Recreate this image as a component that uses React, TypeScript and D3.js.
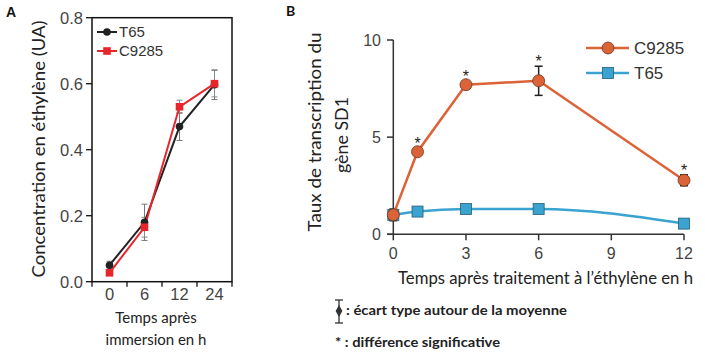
import React, { useEffect, useRef } from "react";
import * as d3 from "d3";

// Panel A: ethylene concentration
const catsA = ["0", "6", "12", "24"];
const t65A = [0.05, 0.18, 0.47, 0.597];
const t65AErr = [0.012, 0.055, 0.042, 0.045];
const c9285A = [0.027, 0.165, 0.53, 0.6];
const c9285AErr = [0.005, 0.03, 0.02, 0.04];
const ticksA = [0, 0.2, 0.4, 0.6, 0.8];

// Panel B: SD1 transcription
const hoursB = [0, 1, 3, 6, 12];
const c9285B = [1.0, 4.25, 7.7, 7.9, 2.78];
const c9285BErr = [0.3, 0.12, 0.1, 0.75, 0.28];
const t65B = [1.0, 1.17, 1.3, 1.3, 0.55];
const signifB = [false, true, true, true, true];
const ticksBx = [0, 3, 6, 9, 12];
const ticksBy = [0, 5, 10];

const ORANGE = "#dc6337";
const BLUE = "#3aa3cf";
const SANS = "'Liberation Sans', Arial, sans-serif";
const HUM = "Lato, 'Open Sans', sans-serif";

const App: React.FC = () => {
  const svgRef = useRef<SVGSVGElement>(null);

  useEffect(() => {
    if (!svgRef.current) return;
    const svg = d3.select(svgRef.current);
    svg.selectAll("*").remove();

    // ---------- Panel A ----------
    const xA = d3.scaleBand<string>().domain(catsA).range([92, 232]);
    const yA = d3.scaleLinear().domain([0, 0.8]).range([281.7, 17.7]);
    const cx = (c: string) => (xA(c) as number) + xA.bandwidth() / 2;

    const gA = svg.append("g");
    gA.append("rect")
      .attr("x", 92)
      .attr("y", yA(0.8))
      .attr("width", 140)
      .attr("height", yA(0) - yA(0.8))
      .attr("fill", "none")
      .attr("stroke", "#111")
      .attr("stroke-width", 1.5);

    // y ticks
    ticksA.forEach((t) => {
      gA.append("line")
        .attr("x1", 86).attr("x2", 92)
        .attr("y1", yA(t)).attr("y2", yA(t))
        .attr("stroke", "#111").attr("stroke-width", 1.3);
      gA.append("text")
        .attr("x", 83).attr("y", yA(t))
        .attr("dy", "0.36em")
        .attr("text-anchor", "end")
        .style("font-family", SANS)
        .style("font-size", "16.5px")
        .style("fill", "#444")
        .text(t.toFixed(1));
    });
    // x ticks at band boundaries
    [...catsA.map((c) => xA(c) as number), 232].forEach((x) => {
      gA.append("line")
        .attr("x1", x).attr("x2", x)
        .attr("y1", yA(0)).attr("y2", yA(0) + 5)
        .attr("stroke", "#111").attr("stroke-width", 1.3);
    });
    catsA.forEach((c) => {
      gA.append("text")
        .attr("x", cx(c)).attr("y", 300)
        .attr("text-anchor", "middle")
        .style("font-family", SANS)
        .style("font-size", "16.5px")
        .style("fill", "#444")
        .text(c);
    });

    const lineA = d3.line<number>().x((_, i) => cx(catsA[i])).y((d) => yA(d));

    const drawErrA = (vals: number[], errs: number[], color: string) => {
      vals.forEach((v, i) => {
        const x = cx(catsA[i]);
        const g = gA.append("g").attr("stroke", color).attr("stroke-width", 1);
        g.append("line").attr("x1", x).attr("x2", x).attr("y1", yA(v + errs[i])).attr("y2", yA(v - errs[i]));
        g.append("line").attr("x1", x - 3).attr("x2", x + 3).attr("y1", yA(v + errs[i])).attr("y2", yA(v + errs[i]));
        g.append("line").attr("x1", x - 3).attr("x2", x + 3).attr("y1", yA(v - errs[i])).attr("y2", yA(v - errs[i]));
      });
    };
    drawErrA(t65A, t65AErr, "#777");
    drawErrA(c9285A, c9285AErr, "#888");

    gA.append("path").attr("d", lineA(t65A)).attr("fill", "none").attr("stroke", "#222").attr("stroke-width", 2);
    gA.append("path").attr("d", lineA(c9285A)).attr("fill", "none").attr("stroke", "#e8252b").attr("stroke-width", 2);
    t65A.forEach((v, i) => {
      gA.append("circle").attr("cx", cx(catsA[i])).attr("cy", yA(v)).attr("r", 3.8).attr("fill", "#222");
    });
    c9285A.forEach((v, i) => {
      gA.append("rect")
        .attr("x", cx(catsA[i]) - 3.8).attr("y", yA(v) - 3.8)
        .attr("width", 7.6).attr("height", 7.6).attr("fill", "#e8252b");
    });

    // legend A
    const legA = [
      { name: "T65", color: "#222", shape: "circle", y: 32 },
      { name: "C9285", color: "#e8252b", shape: "square", y: 51 },
    ];
    legA.forEach((l) => {
      gA.append("line").attr("x1", 97).attr("x2", 117).attr("y1", l.y).attr("y2", l.y)
        .attr("stroke", l.color).attr("stroke-width", 2);
      if (l.shape === "circle") {
        gA.append("circle").attr("cx", 107).attr("cy", l.y).attr("r", 3.8).attr("fill", l.color);
      } else {
        gA.append("rect").attr("x", 103.2).attr("y", l.y - 3.8).attr("width", 7.6).attr("height", 7.6).attr("fill", l.color);
      }
      gA.append("text").attr("x", 119).attr("y", l.y).attr("dy", "0.36em")
        .style("font-family", SANS).style("font-size", "15px").style("fill", "#333").text(l.name);
    });

    gA.append("text")
      .attr("transform", `translate(45, 149) rotate(-90)`)
      .attr("text-anchor", "middle")
      .attr("textLength", 257)
      .attr("lengthAdjust", "spacingAndGlyphs")
      .style("font-family", HUM)
      .style("font-size", "17.5px")
      .style("fill", "#222")
      .text("Concentration en éthylène (UA)");
    gA.append("text").attr("x", 156).attr("y", 323).attr("text-anchor", "middle")
      .style("font-family", HUM).style("font-size", "15px").style("fill", "#222").text("Temps après");
    gA.append("text").attr("x", 156).attr("y", 345).attr("text-anchor", "middle")
      .style("font-family", HUM).style("font-size", "15px").style("fill", "#222").text("immersion en h");
    gA.append("text").attr("x", 6).attr("y", 17)
      .style("font-family", SANS).style("font-size", "14px").style("font-weight", "bold").style("fill", "#111").text("A");

    // ---------- Panel B ----------
    const xB = d3.scaleLinear().domain([0, 12]).range([393.3, 684]);
    const yB = d3.scaleLinear().domain([0, 10]).range([234.3, 40]);
    const gB = svg.append("g");

    gB.append("line").attr("x1", xB(0)).attr("x2", xB(0)).attr("y1", yB(10)).attr("y2", yB(0))
      .attr("stroke", "#333").attr("stroke-width", 1.5);
    gB.append("line").attr("x1", 387).attr("x2", xB(12)).attr("y1", yB(0)).attr("y2", yB(0))
      .attr("stroke", "#333").attr("stroke-width", 1.5);
    ticksBy.forEach((t) => {
      gB.append("line").attr("x1", 387).attr("x2", xB(0)).attr("y1", yB(t)).attr("y2", yB(t))
        .attr("stroke", "#333").attr("stroke-width", 1.5);
      gB.append("text").attr("x", 381).attr("y", yB(t)).attr("dy", "0.36em").attr("text-anchor", "end")
        .style("font-family", SANS).style("font-size", "16px").style("fill", "#444").text(t);
    });
    ticksBx.forEach((t) => {
      gB.append("line").attr("x1", xB(t)).attr("x2", xB(t)).attr("y1", yB(0)).attr("y2", yB(0) + 6)
        .attr("stroke", "#333").attr("stroke-width", 1.5);
      gB.append("text").attr("x", xB(t)).attr("y", 259).attr("text-anchor", "middle")
        .style("font-family", SANS).style("font-size", "16px").style("fill", "#444").text(t);
    });

    // error bars C9285
    c9285B.forEach((v, i) => {
      const x = xB(hoursB[i]);
      const g = gB.append("g").attr("stroke", "#222").attr("stroke-width", 1.5);
      const top = yB(v + c9285BErr[i]);
      const bot = yB(v - c9285BErr[i]);
      g.append("line").attr("x1", x).attr("x2", x).attr("y1", top).attr("y2", bot);
      g.append("line").attr("x1", x - 4).attr("x2", x + 4).attr("y1", top).attr("y2", top);
      g.append("line").attr("x1", x - 4).attr("x2", x + 4).attr("y1", bot).attr("y2", bot);
    });

    const lineB = d3.line<number>().x((_, i) => xB(hoursB[i])).y((d) => yB(d));
    const curveB = d3.line<number>().x((_, i) => xB(hoursB[i])).y((d) => yB(d)).curve(d3.curveMonotoneX);

    gB.append("path").attr("d", curveB(t65B)).attr("fill", "none").attr("stroke", BLUE).attr("stroke-width", 2.5);
    t65B.forEach((v, i) => {
      gB.append("rect").attr("x", xB(hoursB[i]) - 5.5).attr("y", yB(v) - 5.5).attr("width", 11).attr("height", 11)
        .attr("fill", BLUE).attr("stroke", "#235d78").attr("stroke-width", 0.8);
    });
    gB.append("path").attr("d", lineB(c9285B)).attr("fill", "none").attr("stroke", ORANGE).attr("stroke-width", 2.5);
    c9285B.forEach((v, i) => {
      gB.append("circle").attr("cx", xB(hoursB[i])).attr("cy", yB(v)).attr("r", 6)
        .attr("fill", ORANGE).attr("stroke", "#6b3520").attr("stroke-width", 0.8);
    });
    signifB.forEach((s, i) => {
      if (!s) return;
      const v = c9285B[i];
      const top = Math.min(yB(v + c9285BErr[i]), yB(v) - 4);
      gB.append("text").attr("x", xB(hoursB[i])).attr("y", top + 1).attr("text-anchor", "middle")
        .style("font-family", SANS).style("font-size", "16px").style("fill", "#222").text("*");
    });

    // legend B
    const legB = [
      { name: "C9285", color: ORANGE, shape: "circle", y: 48 },
      { name: "T65", color: BLUE, shape: "square", y: 73 },
    ];
    legB.forEach((l) => {
      gB.append("line").attr("x1", 586).attr("x2", 629).attr("y1", l.y).attr("y2", l.y)
        .attr("stroke", l.color).attr("stroke-width", 2.5);
      if (l.shape === "circle") {
        gB.append("circle").attr("cx", 608).attr("cy", l.y).attr("r", 6)
          .attr("fill", l.color).attr("stroke", "#6b3520").attr("stroke-width", 0.8);
      } else {
        gB.append("rect").attr("x", 602.5).attr("y", l.y - 5.5).attr("width", 11).attr("height", 11)
          .attr("fill", l.color).attr("stroke", "#235d78").attr("stroke-width", 0.8);
      }
      gB.append("text").attr("x", 634).attr("y", l.y).attr("dy", "0.36em")
        .style("font-family", SANS).style("font-size", "17px").style("fill", "#333").text(l.name);
    });

    // axis titles B
    gB.append("text")
      .attr("transform", `translate(321, 132) rotate(-90)`)
      .attr("text-anchor", "middle")
      .attr("textLength", 199)
      .attr("lengthAdjust", "spacingAndGlyphs")
      .style("font-family", HUM).style("font-size", "17px").style("fill", "#222")
      .text("Taux de transcription du");
    gB.append("text")
      .attr("transform", `translate(348, 135) rotate(-90)`)
      .attr("text-anchor", "middle")
      .attr("textLength", 76)
      .attr("lengthAdjust", "spacingAndGlyphs")
      .style("font-family", HUM).style("font-size", "17px").style("fill", "#222")
      .text("gène SD1");
    gB.append("text")
      .attr("x", 398).attr("y", 284)
      .attr("textLength", 295)
      .attr("lengthAdjust", "spacingAndGlyphs")
      .style("font-family", HUM).style("font-size", "16.5px").style("fill", "#222")
      .text("Temps après traitement à l’éthylène en h");
    gB.append("text").attr("x", 286).attr("y", 16)
      .style("font-family", HUM).style("font-size", "14px").style("font-weight", "bold").style("fill", "#111").text("B");

    // notes
    const gx = 339;
    const gn = gB.append("g").attr("stroke", "#333").attr("stroke-width", 1.3);
    gn.append("line").attr("x1", gx).attr("x2", gx).attr("y1", 300).attr("y2", 323);
    gn.append("line").attr("x1", gx - 4).attr("x2", gx + 4).attr("y1", 300).attr("y2", 300);
    gn.append("line").attr("x1", gx - 4).attr("x2", gx + 4).attr("y1", 323).attr("y2", 323);
    gB.append("path")
      .attr("d", d3.symbol().type(d3.symbolDiamond).size(40)())
      .attr("transform", `translate(${gx}, 311)`)
      .attr("fill", "#333");
    gB.append("text").attr("x", 346).attr("y", 315)
      .attr("textLength", 221).attr("lengthAdjust", "spacingAndGlyphs")
      .style("font-family", HUM).style("font-size", "14px").style("font-weight", "bold").style("fill", "#222")
      .text(": écart type autour de la moyenne");
    gB.append("text").attr("x", 335).attr("y", 347)
      .attr("textLength", 165).attr("lengthAdjust", "spacingAndGlyphs")
      .style("font-family", HUM).style("font-size", "14px").style("font-weight", "bold").style("fill", "#222")
      .text("* : différence significative");
  }, []);

  return (
    <svg
      ref={svgRef}
      width={705}
      height={353}
      style={{ position: "absolute", left: 0, top: 0, background: "#fff" }}
    />
  );
};

export default App;
